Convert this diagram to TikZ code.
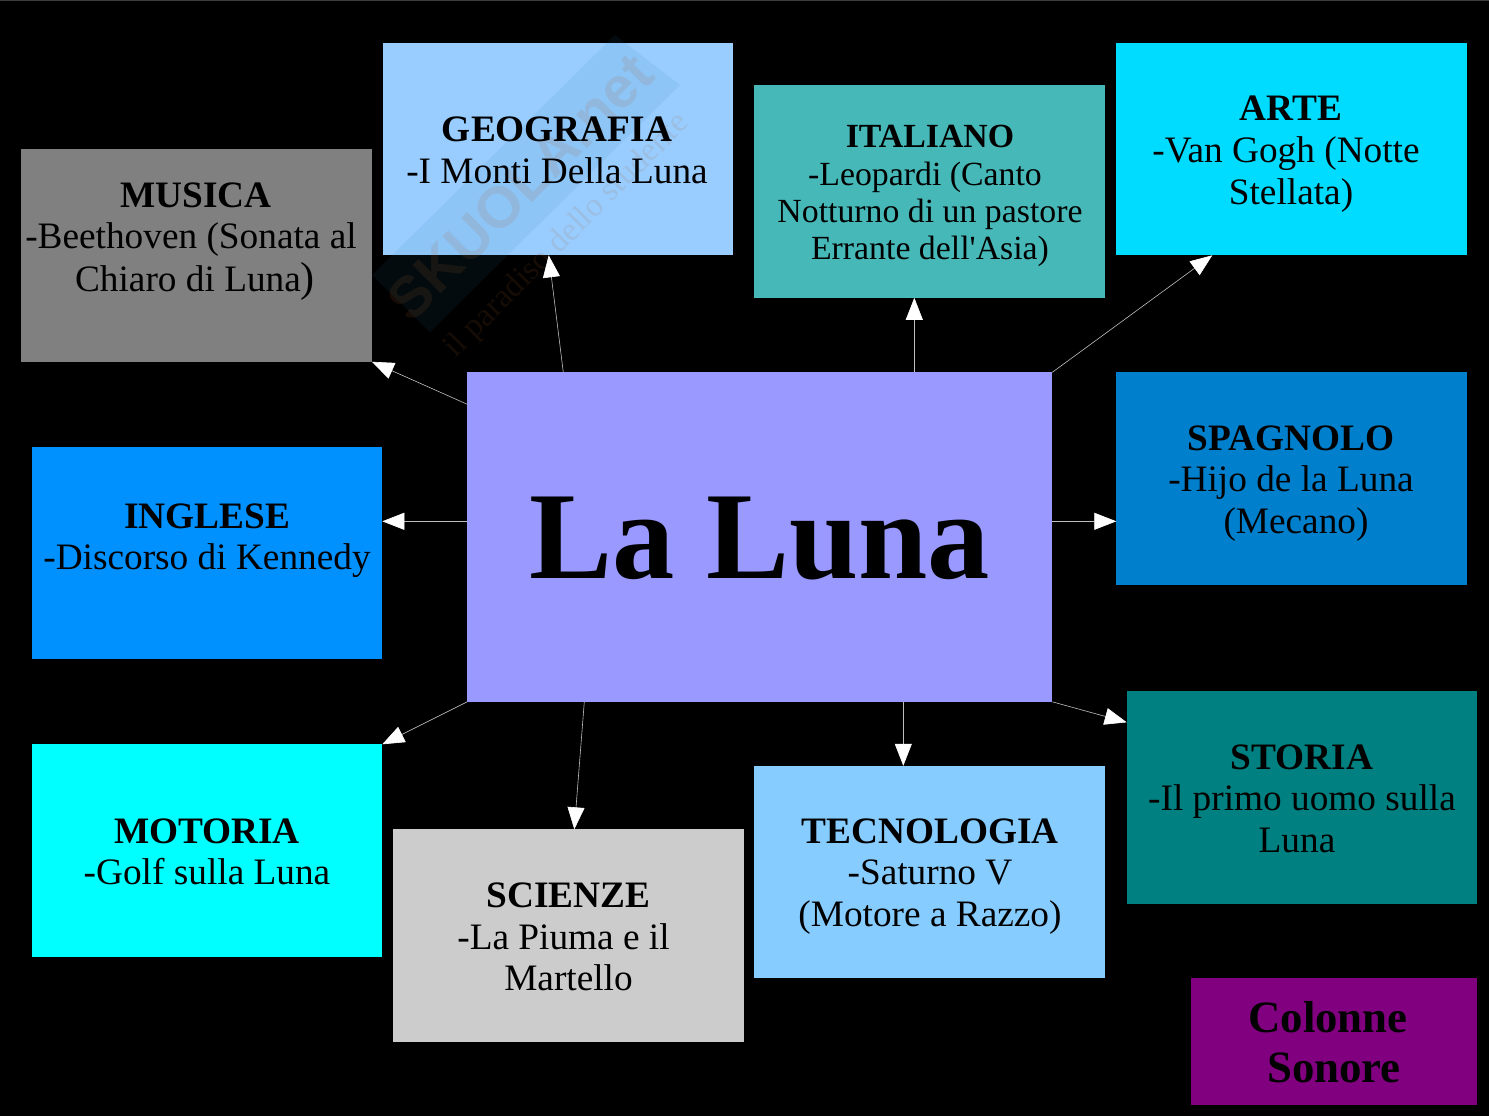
\documentclass[tikz,border=0pt]{standalone}
\usepackage{fontspec}
\setmainfont{Liberation Serif}
\newfontfamily\wmfont{Liberation Sans}
\usetikzlibrary{arrows.meta,calc}
\definecolor{cMusica}{RGB}{128,128,128}
\definecolor{cGeo}{RGB}{153,204,255}
\definecolor{cIta}{RGB}{71,184,184}
\definecolor{cArte}{RGB}{0,220,255}
\definecolor{cSpa}{RGB}{0,128,204}
\definecolor{cIng}{RGB}{0,145,255}
\definecolor{cLuna}{RGB}{153,153,255}
\definecolor{cMot}{RGB}{0,255,255}
\definecolor{cSci}{RGB}{204,204,204}
\definecolor{cTec}{RGB}{135,204,255}
\definecolor{cSto}{RGB}{0,128,128}
\definecolor{cCol}{RGB}{128,0,128}
\definecolor{cWm}{RGB}{40,130,170}
\definecolor{cWt}{RGB}{170,100,40}
\definecolor{cEdge}{RGB}{60,60,60}
\tikzset{
  x=1pt,y=-1pt,
  topic/.style={draw=none,inner sep=0pt,outer sep=0pt,minimum width=350.6pt,minimum height=212.5pt,anchor=north west},
  label/.style={align=center,text=black,font=\fontsize{37.3}{42}\selectfont,anchor=base},
  link/.style={draw=white!75!black,line width=0.6pt,-{Triangle[length=22pt,width=17pt,fill=white,color=white]}},
}
\begin{document}
\begin{tikzpicture}
\useasboundingbox (0,0) rectangle (1489,1116);
\fill[black] (0,0) rectangle (1489,1116);
\fill[cEdge] (0,0) rectangle (1489,1);
\node[topic,fill=cMusica] (musica) at (21.3,149.3) {};
\node[topic,fill=cGeo] (geo) at (382.7,42.8) {};
\node[topic,fill=cIta] (ita) at (754.3,85.3) {};
\node[topic,fill=cArte] (arte) at (1116.3,42.8) {};
\node[topic,fill=cSpa] (spa) at (1116.3,372.3) {};
\node[topic,fill=cIng] (ing) at (31.7,446.8) {};
\node[topic,fill=cMot] (mot) at (31.7,744.3) {};
\node[topic,fill=cSci] (sci) at (393.3,829.3) {};
\node[topic,fill=cTec] (tec) at (754.3,765.8) {};
\node[topic,fill=cSto] (sto) at (1126.7,691.3) {};
\node[topic,fill=cCol,minimum width=286.6pt,minimum height=127pt] (col) at (1190.7,978.3) {};
\node[topic,fill=cLuna,minimum width=585pt,minimum height=329.5pt] (luna) at (467.3,372.3) {};
% watermark
\begin{scope}[opacity=0.09]
\fill[cWm] (372,275) -- (615,35) -- (680,85) -- (430,332) -- cycle;
\end{scope}
\node[rotate=45,text=cWt,opacity=0.13,font=\wmfont\bfseries\fontsize{58}{58}\selectfont] (wm1) at (520,187) {SKUOLA.net};
\node[rotate=45,text=cWt,opacity=0.13,font=\fontsize{33}{33}\selectfont] (wm2) at (567,236) {il paradiso dello studente};
% texts
\node[label] (tMusica) at (196,207) {\textbf{MUSICA}};
\node[label] (tMusica2) at (191,248) {-Beethoven (Sonata al};
\node[label] (tMusica3) at (195,291) {Chiaro di Luna{\fontsize{42}{42}\selectfont )}};
\node[label] (tGeo) at (557,141) {\textbf{GEOGRAFIA}};
\node[label] (tGeo2) at (557,183) {-I Monti Della Luna};
\begin{scope}[label/.append style={font=\fontsize{33.8}{37}\selectfont}]
\node[label] (tIta) at (930,147) {\textbf{ITALIANO}};
\node[label] (tIta2) at (925,185) {-Leopardi (Canto};
\node[label] (tIta3) at (930,222) {Notturno di un pastore};
\node[label] (tIta4) at (930,259) {Errante dell\textquotesingle Asia)};
\end{scope}
\node[label] (tArte) at (1291,120) {\textbf{ARTE}};
\node[label] (tArte2) at (1286,162) {-Van Gogh (Notte};
\node[label] (tArte3) at (1291,204) {Stellata)};
\node[label] (tSpa) at (1291,450) {\textbf{SPAGNOLO}};
\node[label] (tSpa2) at (1291,491) {-Hijo de la Luna};
\node[label] (tSpa3) at (1296,533) {(Mecano)};
\node[label] (tIng) at (207,528) {\textbf{INGLESE}};
\node[label] (tIng2) at (207,569) {-Discorso di Kennedy};
\node[label] (tMot) at (207,843) {\textbf{MOTORIA}};
\node[label] (tMot2) at (207,884) {-Golf sulla Luna};
\node[label] (tSci) at (568.5,907) {\textbf{SCIENZE}};
\node[label] (tSci2) at (563.5,949) {-La Piuma e il};
\node[label] (tSci3) at (568.5,990) {Martello};
\node[label] (tTec) at (930,843) {\textbf{TECNOLOGIA}};
\node[label] (tTec2) at (930,884) {-Saturno V};
\node[label] (tTec3) at (930,926) {(Motore a Razzo)};
\node[label] (tSto) at (1302,769) {\textbf{STORIA}};
\node[label] (tSto2) at (1302,810) {-Il primo uomo sulla};
\node[label] (tSto3) at (1297,852) {Luna};
\node[label,font=\bfseries\fontsize{44.8}{50}\selectfont] (tCol) at (1328,1032) {Colonne};
\node[label,font=\bfseries\fontsize{44.8}{50}\selectfont] (tCol2) at (1334,1082) {Sonore};
\node[label,font=\bfseries\fontsize{124.5}{131}\selectfont] (tLuna) at (760,578) {La Luna};
% connectors
\draw[link] ($(luna.north west)+(0,32)$) -- (musica.south east);
\draw[link] ($(luna.north west)+(96,0)$) -- ($(geo.south west)+(166,0)$);
\draw[link] ($(luna.north west)+(447,0)$) -- ($(ita.south west)+(160,0)$);
\draw[link] (luna.north east) -- ($(arte.south west)+(96,0)$);
\draw[link] ($(luna.north east)+(0,149)$) -- ($(spa.north west)+(0,149)$);
\draw[link] ($(luna.north west)+(0,149)$) -- ($(ing.north east)+(0,74.5)$);
\draw[link] (luna.south west) -- (mot.north east);
\draw[link] ($(luna.south west)+(117,0)$) -- ($(sci.north west)+(181,0)$);
\draw[link] ($(luna.south west)+(436,0)$) -- ($(tec.north west)+(149,0)$);
\draw[link] (luna.south east) -- ($(sto.north west)+(0,31)$);
\end{tikzpicture}
\end{document}
